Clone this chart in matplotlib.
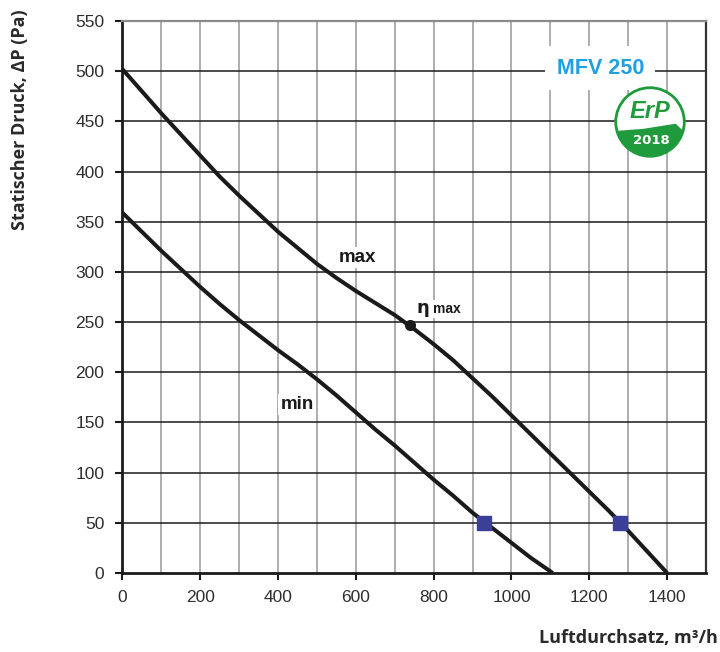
import numpy as np
import matplotlib
matplotlib.use("Agg")
import matplotlib.pyplot as plt
from matplotlib.patches import Circle, Polygon

# curve points (m3/h, Pa)
max_flow = [0, 50, 100, 150, 200, 250, 300, 350, 400, 450, 500, 550, 600,
            650, 700, 750, 800, 850, 900, 950, 1000, 1050, 1100, 1150, 1200,
            1250, 1300, 1350, 1400]
max_press = [502, 480, 458, 437, 416, 395, 376, 358, 340, 324, 308, 294, 281,
             269, 257, 243, 228, 212, 194, 176, 157, 138, 119, 100, 81,
             62, 42, 21, 0]

min_flow = [0, 50, 100, 150, 200, 250, 300, 350, 400, 450, 500, 550, 600,
            650, 700, 750, 800, 850, 900, 950, 1000, 1050, 1106]
min_press = [359, 340, 321, 303, 285, 268, 252, 237, 222, 208, 193, 177, 160,
             143, 127, 110, 93, 77, 60, 45, 30, 15, 0]

eta_max = (740, 247)
op_flow = [929, 1280]
op_press = [50, 50]

x_ticks = [0, 200, 400, 600, 800, 1000, 1200, 1400]
y_ticks = list(range(0, 551, 50))

fig = plt.figure(figsize=(7.2, 6.52), dpi=100)
ax = fig.add_axes([0.170, 0.1212, 0.8106, 0.8466])

ax.set_xlim(0, 1500)
ax.set_ylim(0, 550)

# grid: light vertical lines every 100, dark horizontal lines every 50
for xv in range(100, 1500, 100):
    ax.axvline(xv, color="#a8a8a8", lw=1.3, zorder=0)
for yv in y_ticks[1:]:
    ax.axhline(yv, color="#1a1a1a", lw=1.1, zorder=0)

ax.plot(max_flow, max_press, color="#1a1a1a", lw=2.9, solid_capstyle="butt",
        solid_joinstyle="round", zorder=3)
ax.plot(min_flow, min_press, color="#1a1a1a", lw=2.9, solid_capstyle="butt",
        solid_joinstyle="round", zorder=3)
ax.plot(*eta_max, "o", color="#1a1a1a", ms=7, zorder=4)
ax.plot(op_flow, op_press, "s", color="#3b3f98", ms=10, zorder=5)

box = dict(facecolor="white", edgecolor="none", pad=1.5)
ax.text(603, 314, "max", fontsize=13.5, fontweight="bold", ha="center",
        va="center", color="#1a1a1a", bbox=box, zorder=2,
        family="Liberation Sans")
ax.text(449, 168, "min", fontsize=13.5, fontweight="bold", ha="center",
        va="center", color="#1a1a1a", bbox=box, zorder=2,
        family="Liberation Sans")
ax.text(772, 259, "η", fontsize=13, fontweight="bold", ha="center",
        va="baseline", color="#1a1a1a", bbox=box, zorder=2)
ax.text(797, 259, "max", fontsize=10, fontweight="bold", ha="left",
        va="baseline", color="#1a1a1a", bbox=box, zorder=2,
        family="Liberation Sans")
ax.text(1228, 503, "MFV 250", fontsize=15.5, fontweight="bold", ha="center",
        va="center", color="#1e9fe6", family="Liberation Sans",
        bbox=dict(facecolor="white", edgecolor="none", pad=8), zorder=2)

# spines
ax.spines["left"].set_color("#1a1a1a")
ax.spines["left"].set_linewidth(2)
ax.spines["bottom"].set_color("#1a1a1a")
ax.spines["bottom"].set_linewidth(2)
ax.spines["right"].set_color("#333333")
ax.spines["right"].set_linewidth(1.6)
ax.spines["top"].set_color("#8a8a8a")
ax.spines["top"].set_linewidth(1.6)

ax.set_xticks(x_ticks)
ax.set_yticks(y_ticks)
ax.tick_params(axis="both", direction="out", length=5, width=1.5,
               color="#1a1a1a", labelsize=12.5, labelcolor="#2e2e2e")
ax.tick_params(axis="x", pad=7)
ax.tick_params(axis="y", pad=8)
for lab in ax.get_xticklabels() + ax.get_yticklabels():
    lab.set_family("Liberation Sans")

fig.text(20 / 720, 1 - 120 / 652, "Statischer Druck, ΔP (Pa)", rotation=90,
         ha="center", va="center", fontsize=13, fontweight="bold",
         color="#2a2a2a", family="Open Sans")
fig.text(718 / 720, 1 - 638 / 652, "Luftdurchsatz, m³/h", ha="right",
         va="center", fontsize=13, fontweight="bold", color="#2a2a2a",
         family="Open Sans")

# ErP 2018 badge
logo = fig.add_axes([614 / 720, 1 - 158 / 652, 72 / 720, 72 / 652])
logo.set_xlim(-1.05, 1.05)
logo.set_ylim(-1.05, 1.05)
logo.set_aspect("equal")
logo.axis("off")
green = "#1f9a3c"
logo.add_patch(Circle((0, 0), 1.0, facecolor="white", edgecolor=green, lw=2))
ang = np.linspace(np.radians(195), np.radians(345), 40)
seg = np.column_stack([np.cos(ang), np.sin(ang)])
seg = np.vstack([seg, [[0.75, -0.05], [-0.2, -0.2]]])
logo.add_patch(Polygon(seg, closed=True, facecolor=green, edgecolor="none"))
logo.text(0, 0.3, "ErP", ha="center", va="center", fontsize=17,
          fontweight="bold", style="italic", color=green,
          family="Liberation Sans")
logo.text(0.05, -0.55, "2018", ha="center", va="center", fontsize=9.5,
          fontweight="bold", color="white", family="Liberation Sans Narrow")

fig.savefig("out.png", dpi=100)
